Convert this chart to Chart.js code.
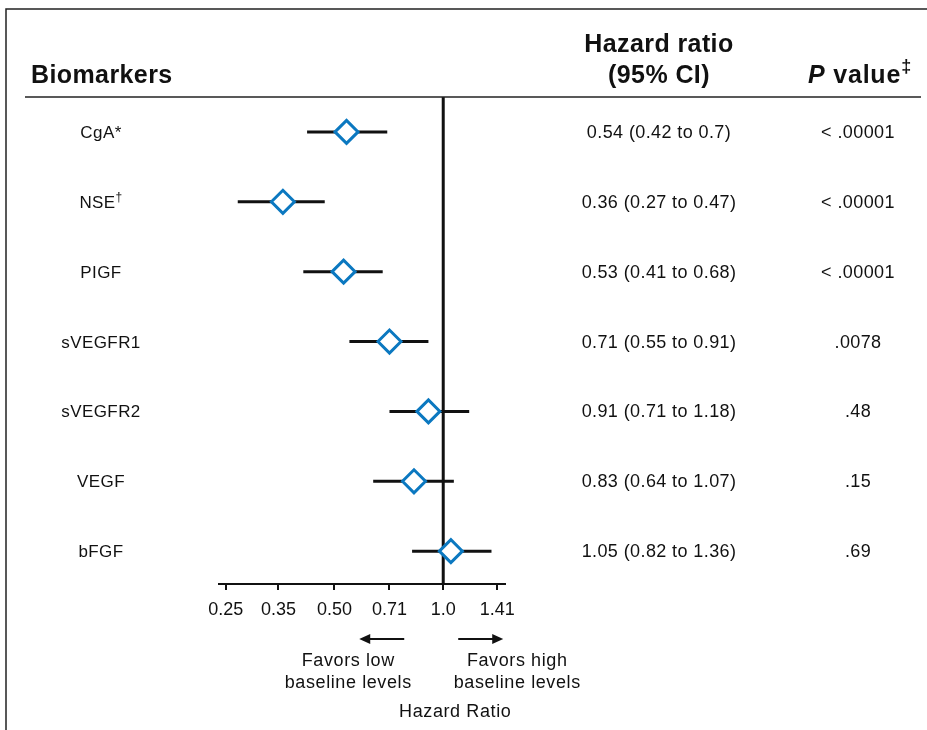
<!DOCTYPE html>
<html>
<head>
<meta charset="utf-8">
<title>Biomarkers - hazard ratio</title>
<script src="https://cdn.jsdelivr.net/npm/chart.js@4.4.0/dist/chart.umd.min.js"></script>
<style>
  body { margin: 0; background: #fff; }
  canvas { display: block; }
</style>
</head>
<body>
<canvas id="forest" width="927" height="730"></canvas>
<script>
// data
var biomarkers = ['CgA*', 'NSE', 'PIGF', 'sVEGFR1', 'sVEGFR2', 'VEGF', 'bFGF'];
var footMarks = ['', '\u2020', '', '', '', '', ''];
var hazardRatio = [0.54, 0.36, 0.53, 0.71, 0.91, 0.83, 1.05];
var ciLow = [0.42, 0.27, 0.41, 0.55, 0.71, 0.64, 0.82];
var ciHigh = [0.7, 0.47, 0.68, 0.91, 1.18, 1.07, 1.36];
var pValues = ['< .00001', '< .00001', '< .00001', '.0078', '.48', '.15', '.69'];
var tickValues = [0.25, 0.35, 0.5, 0.71, 1, 1.41];
var tickLabels = ['0.25', '0.35', '0.50', '0.71', '1.0', '1.41'];

var FONT = '"Liberation Sans", Arial, Helvetica, sans-serif';
var INK = '#111';
var BLUE = '#0b78c0';

// one dataset per confidence interval
var ciSets = biomarkers.map(function(name, i) {
    return {
        type: 'line',
        data: [{x: ciLow[i], y: i}, {x: ciHigh[i], y: i}],
        borderColor: INK,
        borderWidth: 3,
        pointRadius: 0,
        order: 2
    };
});

var forestText = {
    id: 'forestText',
    afterDraw: function(chart) {
        var ctx = chart.ctx;
        var xs = chart.scales.x, ys = chart.scales.y;
        var area = chart.chartArea;
        var x1 = xs.getPixelForValue(1);
        var i, y, w;
        ctx.save();

        // frame and header rule
        ctx.strokeStyle = '#222';
        ctx.lineWidth = 1.5;
        ctx.beginPath();
        ctx.moveTo(6, 730); ctx.lineTo(6, 9); ctx.lineTo(927, 9);
        ctx.stroke();
        ctx.beginPath();
        ctx.moveTo(25, area.top); ctx.lineTo(921, area.top);
        ctx.stroke();

        // headers
        ctx.fillStyle = INK;
        ctx.textBaseline = 'alphabetic';
        ctx.letterSpacing = '0.4px';
        ctx.font = 'bold 25px ' + FONT;
        ctx.textAlign = 'left';
        ctx.fillText('Biomarkers', 31, 83);
        ctx.textAlign = 'center';
        ctx.fillText('Hazard ratio', 659, 52);
        ctx.fillText('(95% CI)', 659, 83);

        ctx.textAlign = 'left';
        ctx.letterSpacing = '0.8px';
        ctx.font = 'italic bold 25px ' + FONT;
        ctx.fillText('P', 808, 83);
        w = ctx.measureText('P').width;
        ctx.font = 'bold 25px ' + FONT;
        ctx.fillText(' value', 808 + w, 83);
        w += ctx.measureText(' value').width;
        ctx.font = 'bold 18px ' + FONT;
        ctx.fillText('\u2021', 808 + w, 72);
        ctx.letterSpacing = '0.4px';

        // rows
        for (i = 0; i < biomarkers.length; i++) {
            y = ys.getPixelForValue(i);
            ctx.font = '17px ' + FONT;
            ctx.textAlign = 'left';
            var nameW = ctx.measureText(biomarkers[i]).width;
            var markW = 0;
            if (footMarks[i]) {
                ctx.font = '12px ' + FONT;
                markW = ctx.measureText(footMarks[i]).width;
            }
            var left = 101 - (nameW + markW) / 2;
            ctx.font = '17px ' + FONT;
            ctx.fillText(biomarkers[i], left, y + 6);
            if (footMarks[i]) {
                ctx.font = '12px ' + FONT;
                ctx.fillText(footMarks[i], left + nameW, y - 1);
            }

            ctx.font = '18px ' + FONT;
            ctx.textAlign = 'center';
            ctx.fillText(hazardRatio[i] + ' (' + ciLow[i] + ' to ' + ciHigh[i] + ')', 659, y + 6);
            ctx.fillText(pValues[i], 858, y + 6);
        }

        // direction arrows
        ctx.strokeStyle = INK;
        ctx.lineWidth = 2;
        var ay = 639;
        ctx.beginPath();
        ctx.moveTo(x1 - 39, ay); ctx.lineTo(x1 - 76, ay);
        ctx.moveTo(x1 + 15, ay); ctx.lineTo(x1 + 52, ay);
        ctx.stroke();
        ctx.beginPath();
        ctx.moveTo(x1 - 84, ay); ctx.lineTo(x1 - 73, ay - 5); ctx.lineTo(x1 - 73, ay + 5); ctx.closePath();
        ctx.moveTo(x1 + 60, ay); ctx.lineTo(x1 + 49, ay - 5); ctx.lineTo(x1 + 49, ay + 5); ctx.closePath();
        ctx.fill();

        ctx.font = '18px ' + FONT;
        ctx.letterSpacing = '0.6px';
        ctx.textAlign = 'center';
        ctx.fillText('Favors low', x1 - 95, 666);
        ctx.fillText('baseline levels', x1 - 95, 688);
        ctx.fillText('Favors high', x1 + 74, 666);
        ctx.fillText('baseline levels', x1 + 74, 688);
        ctx.fillText('Hazard Ratio', x1 + 12, 717);

        ctx.restore();
    }
};

var chart = new Chart(document.getElementById('forest').getContext('2d'), {
    type: 'scatter',
    data: {
        datasets: [{
            type: 'scatter',
            data: hazardRatio.map(function(v, i) { return {x: v, y: i}; }),
            pointStyle: 'rectRot',
            pointRadius: 11.5,
            pointBorderWidth: 3,
            pointBackgroundColor: '#fff',
            pointBorderColor: BLUE,
            order: 0
        }, {
            // reference line at HR = 1
            type: 'line',
            data: [{x: 1, y: -0.5}, {x: 1, y: 6.47}],
            borderColor: INK,
            borderWidth: 3,
            pointRadius: 0,
            order: 1
        }].concat(ciSets)
    },
    options: {
        responsive: false,
        animation: false,
        events: [],
        layout: { padding: { left: 219, right: 422, top: 97, bottom: 0 } },
        plugins: { legend: { display: false }, tooltip: { enabled: false } },
        scales: {
            x: {
                type: 'logarithmic',
                min: 0.2396,
                max: 1.4823,
                afterBuildTicks: function(scale) {
                    scale.ticks = tickValues.map(function(v) { return {value: v}; });
                },
                afterFit: function(scale) { scale.height = 146; },
                border: { display: true, color: INK, width: 2 },
                grid: { drawOnChartArea: false, drawTicks: true, tickLength: 6, color: INK, lineWidth: 2 },
                ticks: {
                    autoSkip: false,
                    maxRotation: 0,
                    padding: 9,
                    color: INK,
                    font: { family: FONT, size: 18 },
                    callback: function(value, index) { return tickLabels[index]; }
                }
            },
            y: {
                type: 'linear',
                display: false,
                reverse: true,
                min: -0.5,
                max: 6.47
            }
        }
    },
    plugins: [forestText]
});
</script>
</body>
</html>
